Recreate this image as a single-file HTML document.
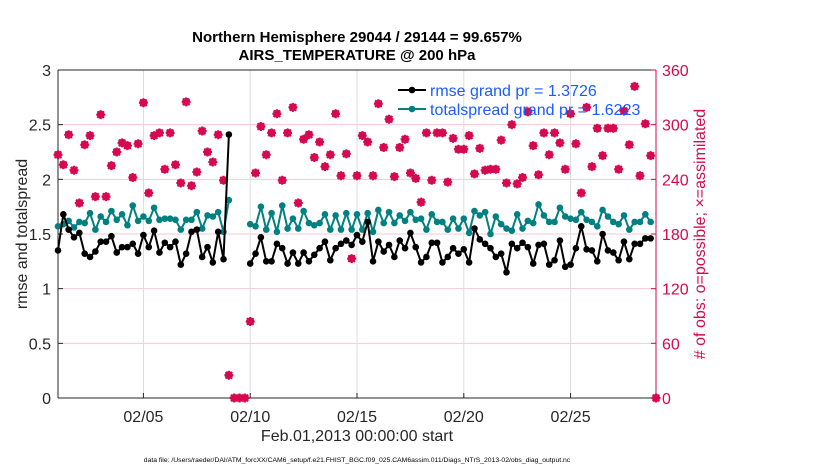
<!DOCTYPE html>
<html><head><meta charset="utf-8"><style>
html,body{margin:0;padding:0;background:#fff;}
svg{display:block;font-family:"Liberation Sans",sans-serif;}
</style></head><body>
<svg id="chart" width="830" height="470" viewBox="0 0 830 470" xmlns="http://www.w3.org/2000/svg">
<text x="357" y="42" text-anchor="middle" font-size="15" font-weight="bold">Northern Hemisphere 29044 / 29144 = 99.657%</text>
<text x="357" y="60" text-anchor="middle" font-size="15" font-weight="bold">AIRS_TEMPERATURE @ 200 hPa</text>
<g id="grid"></g>
<g id="axes"></g>
<g id="series"></g>
<text transform="translate(27,234) rotate(-90)" text-anchor="middle" font-size="16" fill="#262626">rmse and totalspread</text>
<text transform="translate(705,234) rotate(-90)" text-anchor="middle" font-size="16" fill="#d6094f"># of obs: o=possible; ×=assimilated</text>
<text x="357" y="441" text-anchor="middle" font-size="16" fill="#262626">Feb.01,2013 00:00:00 start</text>
<text x="357" y="462" text-anchor="middle" font-size="6.8" fill="#000">data file: /Users/raeder/DAI/ATM_forcXX/CAM6_setup/f.e21.FHIST_BGC.f09_025.CAM6assim.011/Diags_NTrS_2013-02/obs_diag_output.nc</text>
<g>
<line x1="398" y1="90" x2="426" y2="90" stroke="#000" stroke-width="2"/>
<circle cx="412" cy="90" r="3.3" fill="#000"/>
<text x="430" y="96" font-size="16" fill="#1a5cff">rmse grand pr = 1.3726</text>
<line x1="398" y1="109" x2="426" y2="109" stroke="#008080" stroke-width="2"/>
<circle cx="412" cy="109" r="3.3" fill="#008080"/>
<text x="430" y="115" font-size="16" fill="#1a5cff">totalspread grand pr = 1.6223</text>
</g>
</svg>
<script>
const times = []; // day offsets since Feb 1 00Z (6-hourly)
for (let k = 0; k <= 112; k++) times.push(1 + k * 0.25);
const rmse = [1.35,1.68,1.54,1.47,1.51,1.32,1.29,1.34,
1.43,1.43,1.48,1.33,1.38,1.38,1.41,1.32,1.49,1.38,1.53,1.33,1.42,1.38,1.43,1.22,1.32,1.52,1.54,1.29,1.38,1.24,1.52,1.27,2.41,
null,null,null,
1.23,1.32,1.47,1.25,1.25,1.41,1.37,1.23,1.33,1.23,1.33,1.25,1.31,1.37,1.43,1.26,1.37,1.41,1.44,1.40,1.49,1.43,1.61,1.25,1.43,
1.34,1.40,1.29,1.44,1.37,1.51,1.38,1.24,1.29,1.42,1.42,1.24,1.29,1.37,1.32,1.36,1.24,1.55,1.45,1.41,
1.37,1.29,1.32,1.15,1.41,1.37,1.42,1.38,1.23,1.40,1.41,1.22,1.26,1.44,1.20,1.22,1.37,1.57,1.36,1.35,
1.25,1.50,1.35,1.33,1.26,1.43,1.27,1.41,1.41,1.46,1.46,null];
const spread = [1.57,1.59,1.62,1.56,1.61,1.60,1.69,1.54,
1.66,1.61,1.71,1.63,1.68,1.58,1.76,1.62,1.66,1.62,1.74,1.63,1.64,1.64,1.63,1.54,1.63,1.63,1.70,1.55,1.67,1.66,1.70,1.52,1.81,
null,null,null,
1.59,1.57,1.75,1.54,1.69,1.52,1.76,1.55,1.64,1.55,1.71,1.60,1.58,1.60,1.68,1.54,1.67,1.54,1.69,1.54,1.68,1.54,1.69,1.52,1.72,
1.60,1.70,1.60,1.67,1.62,1.70,1.63,1.64,1.54,1.68,1.61,1.61,1.54,1.64,1.55,1.64,1.51,1.71,1.67,1.70,
1.50,1.66,1.59,1.55,1.53,1.68,1.55,1.62,1.60,1.77,1.67,1.61,1.61,1.74,1.66,1.64,1.63,1.70,1.63,1.61,
1.57,1.72,1.66,1.61,1.59,1.67,1.54,1.61,1.61,1.68,1.61,null];
const nobs = [267,256,289,250,214,278,288,221,
311,221,255,270,280,277,242,279,324,225,288,291,251,291,256,236,325,233,248,293,270,259,289,239,25,
0,0,0,
84,247,298,267,291,312,239,291,319,214,284,289,264,281,254,267,312,244,268,153,244,288,281,244,323,
275,306,243,275,284,247,241,215,291,239,291,291,237,285,273,273,288,246,274,250,
251,251,283,236,300,235,242,314,277,245,291,267,291,280,251,312,279,225,319,254,
296,266,296,296,251,315,278,342,244,301,266,0];
const xTickDays = [5,10,15,20,25];
const xTickLabels = ["02/05","02/10","02/15","02/20","02/25"];
const yLeftTicks = [0,0.5,1,1.5,2,2.5,3];
const yLeftLabels = ["0","0.5","1","1.5","2","2.5","3"];
const yRightTicks = [0,60,120,180,240,300,360];

const L=58,R=656,T=70,B=398;
const X0=1,X1=29;
function sx(d){return L+(d-X0)/(X1-X0)*(R-L);}
function syL(v){return B-v/3*(B-T);}
function syR(v){return B-v/360*(B-T);}
const NS="http://www.w3.org/2000/svg";
function mk(tag,attrs,parent){const e=document.createElementNS(NS,tag);for(const k in attrs)e.setAttribute(k,attrs[k]);parent.appendChild(e);return e;}
const grid=document.getElementById('grid'),axes=document.getElementById('axes'),ser=document.getElementById('series');
const RED="#d6094f";
yRightTicks.forEach(v=>{
  const l=mk('line',{x1:L,x2:R,y1:syR(v),y2:syR(v),stroke:"#f6c9d8","stroke-width":1},grid);
  
  
});
xTickDays.forEach((d,i)=>{
  const l=mk('line',{x1:sx(d),x2:sx(d),y1:T,y2:B,stroke:"#dcdcdc","stroke-width":1},grid);
  
  
  mk('line',{x1:sx(d),x2:sx(d),y1:B,y2:B-5,stroke:"#262626"},axes);
  const t=mk('text',{x:sx(d),y:B+24,"text-anchor":"middle","font-size":16,fill:"#262626"},axes);
  t.textContent=xTickLabels[i];
  
  
});
mk('line',{x1:L,x2:R,y1:T,y2:T,stroke:"#262626"},axes);
mk('line',{x1:L,x2:R,y1:B,y2:B,stroke:"#262626"},axes);
mk('line',{x1:L,x2:L,y1:T,y2:B,stroke:"#262626"},axes);
mk('line',{x1:R,x2:R,y1:T,y2:B,stroke:RED},axes);
yLeftTicks.forEach((v,i)=>{
  mk('line',{x1:L,x2:L+5,y1:syL(v),y2:syL(v),stroke:"#262626"},axes);
  const t=mk('text',{x:L-7,y:syL(v)+6,"text-anchor":"end","font-size":16,fill:"#262626"},axes);
  t.textContent=yLeftLabels[i];
  
  
});
yRightTicks.forEach(v=>{
  mk('line',{x1:R,x2:R-5,y1:syR(v),y2:syR(v),stroke:RED},axes);
  const t=mk('text',{x:R+6,y:syR(v)+6,"font-size":16,fill:RED},axes);
  t.textContent=String(v);
  
  
});
nobs.forEach((v,i)=>{
  if(v==null)return;
  const x=sx(times[i]),y=syR(v);
  const g=mk('g',{stroke:RED,"stroke-width":2,fill:"none"},ser);
  
  
  mk('circle',{cx:x,cy:y,r:3},g);
  mk('path',{d:`M${x-4.5} ${y}H${x+4.5}M${x} ${y-4.5}V${y+4.5}M${x-3.3} ${y-3.3}L${x+3.3} ${y+3.3}M${x-3.3} ${y+3.3}L${x+3.3} ${y-3.3}`},g);
});
function drawLine(vals,color,name){
  let d="",pen=false;
  vals.forEach((v,i)=>{
    if(v==null){pen=false;return;}
    d+=(pen?"L":"M")+sx(times[i]).toFixed(1)+" "+syL(v).toFixed(1);pen=true;
  });
  const p=mk('path',{d:d,stroke:color,"stroke-width":2,fill:"none"},ser);
  
  
  vals.forEach((v,i)=>{
    if(v==null)return;
    const c=mk('circle',{cx:sx(times[i]),cy:syL(v),r:3.3,fill:color},ser);
    
    
  });
}
drawLine(spread,"#008080","totalspread");
drawLine(rmse,"#000000","rmse");
</script>
</body></html>
